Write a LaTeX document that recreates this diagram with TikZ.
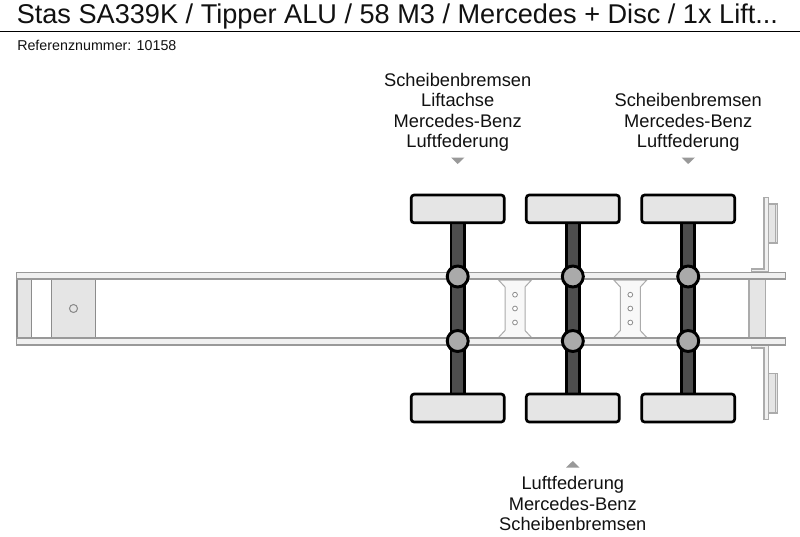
\documentclass[tikz,border=0pt]{standalone}
\usepackage{fontspec}
\setmainfont{Liberation Sans}
\definecolor{railfill}{HTML}{F0F0F0}
\definecolor{railline}{HTML}{999999}
\definecolor{boxfill}{HTML}{E5E5E5}
\definecolor{boxline}{HTML}{8C8C8C}
\definecolor{crossfill}{HTML}{F8F8F8}
\definecolor{crossline}{HTML}{ABABAB}
\definecolor{axlefill}{HTML}{4D4D4D}
\definecolor{hubfill}{HTML}{AAAAAA}
\definecolor{markfill}{HTML}{999999}
\definecolor{textcol}{HTML}{111111}
\tikzset{
  rail/.style={draw=railline,fill=railfill,line width=1.1pt},
  framebox/.style={draw=boxline,fill=boxfill,line width=1pt},
  rearbox/.style={draw=crossline,fill=boxfill,line width=1pt},
  crossm/.style={draw=crossline,fill=crossfill,line width=0.75pt},
  hole/.style={draw=boxline,fill=white,line width=0.6pt},
  wheel/.style={draw=black,fill=boxfill,line width=2pt,rounded corners=2.2pt},
  axle/.style={draw=black,fill=axlefill,line width=2pt},
  hub/.style={draw=black,fill=hubfill,line width=2.2pt},
  marker/.style={fill=markfill,draw=none},
  axlelabel/.style={align=center,font=\fontsize{13.7pt}{15.4pt}\selectfont,text=textcol,inner sep=0pt,anchor=center}
}
\begin{document}
\begin{tikzpicture}[x=0.75pt,y=-0.75pt]
\useasboundingbox (0,0) rectangle (800,536);
\fill[white] (0,0) rectangle (800,536);
% title
\node[anchor=base west,inner sep=0pt,text=textcol,font=\fontsize{20.35pt}{24pt}\selectfont] (title) at (16.5,23) {Stas SA339K / Tipper ALU / 58 M3 / Mercedes + Disc / 1x Lift...};
\draw[black,line width=0.75pt] (0,31.5) -- (800,31.5);
\node[anchor=base west,inner sep=0pt,text=textcol,font=\fontsize{10.7pt}{12pt}\selectfont] (ref) at (17,50.5) {Referenznummer: 10158};
% rear plates (under rails)
\draw[rearbox] (768.3,204) rectangle (777.5,243);
\draw[crossline,line width=0.6pt] (775,204) -- (775,243);
\draw[rearbox] (768.3,373.5) rectangle (777.5,413);
\draw[crossline,line width=0.6pt] (775,373.5) -- (775,413);
\draw[rearbox,fill=railfill] (751.5,272) -- (751.5,269) -- (764,269) -- (764,197.7) -- (768.5,197.7) -- (768.5,272) -- cycle;
\draw[rearbox,fill=railfill] (751.5,345) -- (751.5,348) -- (764,348) -- (764,419.5) -- (768.5,419.5) -- (768.5,345) -- cycle;
% frame boxes
\draw[framebox] (17,279) rectangle (31.5,338);
\draw[framebox] (51.5,279) rectangle (95.5,338);
\draw[hole,draw=boxline,fill=none,line width=0.8pt] (73.5,308.5) circle (4);
\draw[rearbox] (749,279) rectangle (765.5,338);
% cross members
\foreach \c in {515,630.3}{
  \draw[crossm] ({\c-16.5},280) -- ({\c-10},287) -- ({\c-10},330.5) -- ({\c-16.5},337.5) -- ({\c+16.5},337.5) -- ({\c+10},330.5) -- ({\c+10},287) -- ({\c+16.5},280) -- cycle;
  \foreach \y in {294.7,308.5,322.5}
    \draw[hole] (\c,\y) circle (2.4);
}
% rails
\draw[rail] (16.5,272.3) rectangle (785.5,279);
\draw[rail] (16.5,338) rectangle (785.5,345);
% axles
\foreach \c/\n in {457.7/a,572.8/b,688.2/c}{
  \draw[axle] ({\c-6.6},223) rectangle ({\c+6.6},394);
  \draw[wheel] ({\c-46.5},195) rectangle ({\c+46.5},222.8);
  \draw[wheel] ({\c-46.5},394) rectangle ({\c+46.5},422);
  \draw[hub] (\c,276.5) circle (10.5);
  \draw[hub] (\c,341) circle (10.5);
}
% markers
\fill[marker] (451,157.5) -- (464.5,157.5) -- (457.7,164) -- cycle;
\fill[marker] (681.5,157.5) -- (695,157.5) -- (688.2,164) -- cycle;
\fill[marker] (566,467.5) -- (579.5,467.5) -- (572.8,461) -- cycle;
% labels
\node[axlelabel] (la) at (457.7,112.2) {Scheibenbremsen\\Liftachse\\Mercedes-Benz\\Luftfederung};
\node[axlelabel] (lc) at (688.2,122.7) {Scheibenbremsen\\Mercedes-Benz\\Luftfederung};
\node[axlelabel] (lb) at (572.8,503.8) {Luftfederung\\Mercedes-Benz\\Scheibenbremsen};
\end{tikzpicture}
\end{document}
